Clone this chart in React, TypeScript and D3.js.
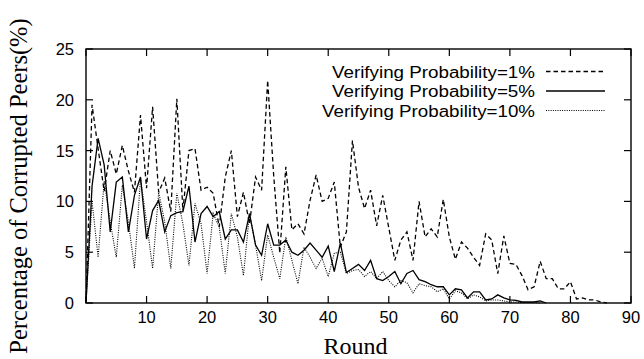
import * as d3 from 'd3';

// values, one per round starting at round 0
const p1 = [
  0, 19.5, 15.2, 11, 15, 12.7, 15.5, 13, 10.9, 18.5, 11.3, 19.3, 10.9, 12.3, 9, 20.1, 9.1, 15, 15.2, 11.1, 11.4, 10.8,
  7.5, 12.4, 15, 8.5, 10.9, 7.8, 12.4, 11.1, 21.9, 12.5, 4.9, 13.4, 7.2, 7.8, 6.8, 10.1, 12.6, 10, 10.3, 11.9, 5.5, 7,
  16, 11.4, 9.3, 11.1, 7.6, 10.6, 7.4, 4.2, 6.2, 7, 4.2, 10, 6.5, 7.3, 6.5, 10.2, 6.5, 4.3, 6, 5.4, 4.5, 3.7, 6.8, 6.2,
  2.9, 6.6, 3.9, 3.8, 2.7, 1.3, 1.6, 4.1, 2.4, 2.4, 1.4, 1.4, 2.1, 0.4, 0.5, 0.3, 0.3, 0.1, 0,
];
const p5 = [
  0, 11.5, 16.2, 13.6, 7, 11.9, 12.4, 7, 10.6, 12.4, 6.3, 9.1, 10.1, 7, 8.6, 8.9, 9, 11.5, 6, 8.8, 9.5, 8.5, 9, 6.3,
  7.2, 7.2, 6, 8.8, 5.7, 4.7, 7.8, 5.7, 5.7, 6.2, 5, 4.7, 5.2, 5.9, 5.2, 4.5, 5.6, 3.1, 5.9, 3, 3.4, 3.8, 3.2, 4.2, 2.4,
  2.2, 2.6, 3.1, 1.9, 2.9, 3.2, 2.3, 2.1, 1.8, 1.6, 1.6, 0.8, 1.4, 1.3, 0.5, 1.1, 1.1, 0.3, 0.4, 0.8, 0.5, 0.3, 0.25,
  0.1, 0.1, 0.1, 0.2, 0,
];
const p10 = [
  0, 10, 4.5, 12, 8, 4.5, 11.6, 8, 3.4, 12.3, 8, 3.4, 10.9, 8, 3.4, 10.8, 7.8, 3.7, 9.8, 7.8, 2.9, 8.8, 7.5, 2.9, 8.8,
  6.5, 2.7, 8.8, 5.7, 2.2, 6.7, 4.5, 2.4, 6.5, 4.2, 1.9, 5.5, 4.5, 3.4, 4.4, 2.6, 4.9, 5, 2.9, 3.2, 3.3, 2.6, 3.1, 2.4,
  3.1, 2.2, 1.6, 2.2, 2, 1, 1.9, 1.7, 1.6, 1.1, 1.4, 0.4, 1.2, 1, 0.4, 0.8, 0.6, 0.2, 0.3, 0.3, 0.2, 0.1, 0.1, 0.05,
  0.05, 0.05, 0,
];

const xTicks = [0, 10, 20, 30, 40, 50, 60, 70, 80, 90];
const yTicks = [0, 5, 10, 15, 20, 25];

const seriesMeta = [
  { id: 'p1', label: 'Verifying Probability=1%', values: p1 },
  { id: 'p5', label: 'Verifying Probability=5%', values: p5 },
  { id: 'p10', label: 'Verifying Probability=10%', values: p10 },
];

const dashFor: Record<string, string | undefined> = { p1: '4.5 3', p5: undefined, p10: '1 1.3' };
const legendWidth: Record<string, number> = { p1: 203, p5: 203, p10: 213 };

export default function App() {
  const width = 644;
  const height = 359;
  const plot = { left: 86, right: 631, top: 49, bottom: 303 };

  const x = d3.scaleLinear().domain([0, 90]).range([plot.left, plot.right]);
  const y = d3.scaleLinear().domain([0, 25]).range([plot.bottom, plot.top]);

  const line = d3
    .line<number>()
    .x((_, i) => x(i))
    .y((d) => y(d));

  const tickLen = 7;
  const sans = "'Liberation Sans', Arial, sans-serif";
  const serif = "'Liberation Serif', 'Times New Roman', serif";

  return (
    <svg width={width} height={height} style={{ position: 'absolute', left: 0, top: 0, background: '#fff' }}>
      {/* series */}
      {seriesMeta.map((s) => (
        <path
          key={s.id}
          d={line(s.values) ?? ''}
          fill="none"
          stroke="#000"
          strokeWidth={s.id === 'p10' ? 1.1 : 1.3}
          strokeDasharray={dashFor[s.id]}
          strokeLinejoin="miter"
        />
      ))}

      {/* frame */}
      <rect
        x={plot.left}
        y={plot.top}
        width={plot.right - plot.left}
        height={plot.bottom - plot.top}
        fill="none"
        stroke="#000"
        strokeWidth={1.4}
      />

      {/* x ticks */}
      {xTicks.map((t) => (
        <g key={`x-${t}`}>
          <line x1={x(t)} x2={x(t)} y1={plot.bottom} y2={plot.bottom - tickLen} stroke="#000" strokeWidth={1.2} />
          <line x1={x(t)} x2={x(t)} y1={plot.top} y2={plot.top + tickLen} stroke="#000" strokeWidth={1.2} />
          {t > 0 && (
            <text x={x(t)} y={plot.bottom + 20} textAnchor="middle" fontFamily={sans} fontSize={16.5}>
              {t}
            </text>
          )}
        </g>
      ))}

      {/* y ticks */}
      {yTicks.map((t) => (
        <g key={`y-${t}`}>
          <line x1={plot.left} x2={plot.left + tickLen} y1={y(t)} y2={y(t)} stroke="#000" strokeWidth={1.2} />
          <line x1={plot.right} x2={plot.right - tickLen} y1={y(t)} y2={y(t)} stroke="#000" strokeWidth={1.2} />
          <text x={plot.left - 12} y={y(t) + 6} textAnchor="end" fontFamily={sans} fontSize={16.5}>
            {t}
          </text>
        </g>
      ))}

      {/* axis titles */}
      <text x={(plot.left + plot.right) / 2 - 3} y={354} textAnchor="middle" fontFamily={serif} fontSize={24}>
        Round
      </text>
      <text
        transform={`translate(27,${186}) rotate(-90)`}
        textAnchor="middle"
        fontFamily={serif}
        fontSize={24.5}
      >
        Percentage of Corrupted Peers(%)
      </text>

      {/* legend */}
      {seriesMeta.map((s, i) => {
        const cy = 71.5 + i * 19.5;
        return (
          <g key={`lg-${s.id}`}>
            <text
              x={535}
              y={cy + 6}
              textAnchor="end"
              fontFamily={sans}
              fontSize={16}
              textLength={legendWidth[s.id]}
              lengthAdjust="spacingAndGlyphs"
            >
              {s.label}
            </text>
            <line
              x1={546}
              x2={605}
              y1={cy}
              y2={cy}
              stroke="#000"
              strokeWidth={s.id === 'p10' ? 1.1 : 1.3}
              strokeDasharray={dashFor[s.id]}
            />
          </g>
        );
      })}
    </svg>
  );
}
